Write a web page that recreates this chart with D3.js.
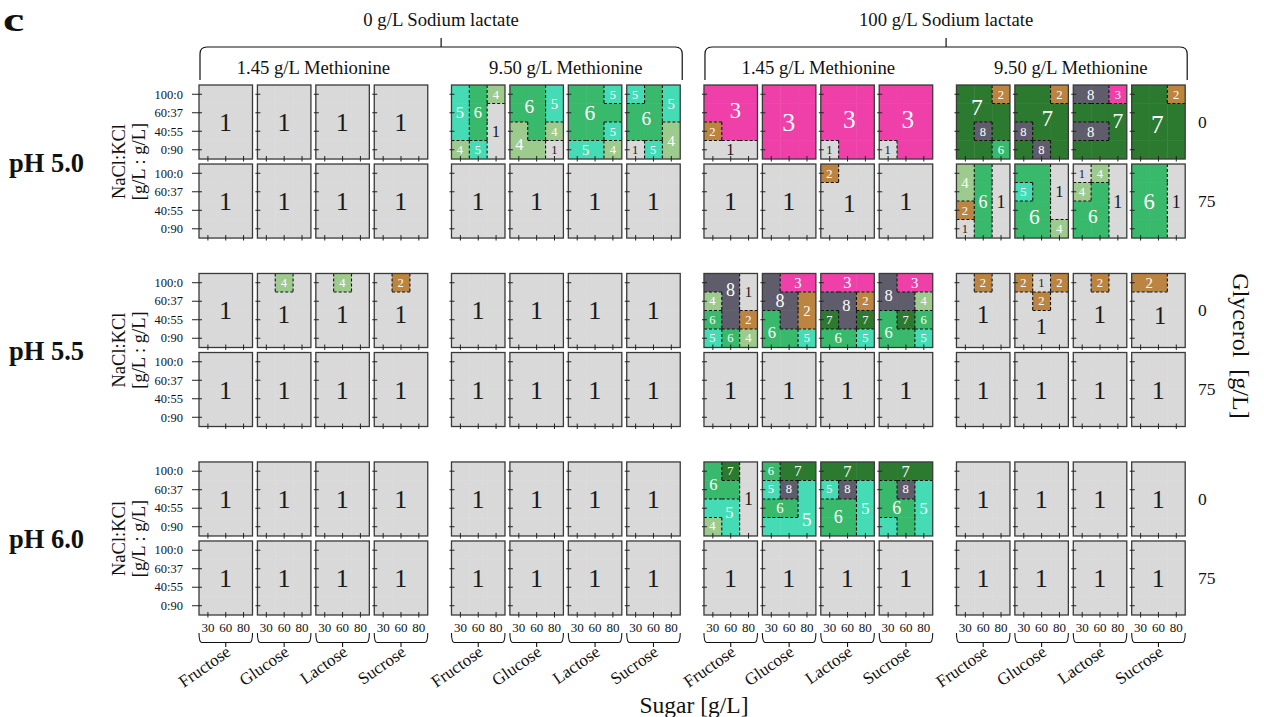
<!DOCTYPE html>
<html>
<head>
<meta charset="utf-8">
<script src="https://cdn.jsdelivr.net/npm/d3@7"></script>
<style>
  body { margin: 0; background: #fff; }
  svg text { font-family: "Liberation Serif", "Times New Roman", serif; }
</style>
</head>
<body>
<svg id="chart" width="1264" height="717"></svg>
<script>
// ---- factor levels ----
const lactateLabels = ["0 g/L Sodium lactate", "100 g/L Sodium lactate"];
const methionineLabels = ["1.45 g/L Methionine", "9.50 g/L Methionine"];
const sugars = ["Fructose", "Glucose", "Lactose", "Sucrose"];
const sugarTicks = ["30", "60", "80"];
const saltTicks = ["100:0", "60:37", "40:55", "0:90"];
const phLabels = ["pH 5.0", "pH 5.5", "pH 6.0"];
const glycerolTicks = ["0", "75"];

// cluster id -> fill colour
const clusterIds = [1, 2, 3, 4, 5, 6, 7, 8];
const clusterFills = ["#d9d9d9", "#bb8440", "#ee40a8", "#9dcb8e", "#45dcb5", "#39b96c", "#2c7a30", "#5f5c6b"];

// Cluster per panel. Each string: rows top->bottom (NaCl:KCl 100:0 ... 0:90),
// digits left->right (sugar 30, 60, 80 g/L).
// Panel order: [0 lactate/1.45 Met, 0 lactate/9.50 Met, 100 lactate/1.45 Met, 100 lactate/9.50 Met] x sugars.
const pH50_gly0 = [
  "111/111/111/111", "111/111/111/111", "111/111/111/111", "111/111/111/111",
  "564/561/561/451", "665/665/464/441", "665/666/665/554", "565/665/664/154",
  "333/333/233/111", "333/333/333/333", "333/333/333/133", "333/333/333/133",
  "772/777/787/776", "772/777/877/787", "883/777/887/777", "772/777/777/777"
];
const pH50_gly75 = [
  "111/111/111/111", "111/111/111/111", "111/111/111/111", "111/111/111/111",
  "111/111/111/111", "111/111/111/111", "111/111/111/111", "111/111/111/111",
  "111/111/111/111", "111/111/111/111", "211/111/111/111", "111/111/111/111",
  "461/461/261/161", "661/561/661/664", "141/461/661/661", "661/661/661/661"
];
const pH55_gly0 = [
  "111/111/111/111", "141/111/111/111", "141/111/111/111", "121/111/111/111",
  "111/111/111/111", "111/111/111/111", "111/111/111/111", "111/111/111/111",
  "881/481/682/564", "833/882/682/665", "333/882/787/665", "833/884/676/665",
  "121/111/111/111", "212/121/111/111", "121/111/111/111", "221/111/111/111"
];
const pH55_gly75 = [
  "111/111/111/111", "111/111/111/111", "111/111/111/111", "111/111/111/111",
  "111/111/111/111", "111/111/111/111", "111/111/111/111", "111/111/111/111",
  "111/111/111/111", "111/111/111/111", "111/111/111/111", "111/111/111/111",
  "111/111/111/111", "111/111/111/111", "111/111/111/111", "111/111/111/111"
];
const pH60_gly0 = [
  "111/111/111/111", "111/111/111/111", "111/111/111/111", "111/111/111/111",
  "111/111/111/111", "111/111/111/111", "111/111/111/111", "111/111/111/111",
  "671/661/551/451", "677/585/665/555", "777/585/665/665", "777/685/665/565",
  "111/111/111/111", "111/111/111/111", "111/111/111/111", "111/111/111/111"
];
const pH60_gly75 = [
  "111/111/111/111", "111/111/111/111", "111/111/111/111", "111/111/111/111",
  "111/111/111/111", "111/111/111/111", "111/111/111/111", "111/111/111/111",
  "111/111/111/111", "111/111/111/111", "111/111/111/111", "111/111/111/111",
  "111/111/111/111", "111/111/111/111", "111/111/111/111", "111/111/111/111"
];
const clusterTable = [[pH50_gly0, pH50_gly75], [pH55_gly0, pH55_gly75], [pH60_gly0, pH60_gly75]];

// regions left without a number (ph index, glycerol index, panel index, row, col)
const unlabeledCells = [[0, 0, 13, 3, 0], [2, 0, 11, 3, 0]];

// ---- scales ----
const color = d3.scaleOrdinal().domain(clusterIds).range(clusterFills);
const groupBand = d3.scaleBand().domain(d3.range(4)).range([199, 1185.2]).paddingInner(0.094);
const sugarBand = d3.scaleBand().domain(sugars).range([0, groupBand.bandwidth()]).paddingInner(0.084);
const phBand = d3.scaleBand().domain(phLabels).range([85, 615]).paddingInner(0.188);
const glyBand = d3.scaleBand().domain(glycerolTicks).range([0, phBand.bandwidth()]).paddingInner(0.0633);
const colBand = d3.scaleBand().domain(sugarTicks).range([0, sugarBand.bandwidth()]);
const rowBand = d3.scaleBand().domain(saltTicks).range([0, glyBand.bandwidth()]);

const PW = sugarBand.bandwidth(), PH = glyBand.bandwidth();
const CW = colBand.bandwidth(), CH = rowBand.bandwidth();

const svg = d3.select("#chart");

function parseGrid(s) { return s.split("/").map(r => r.split("").map(Number)); }

// connected regions of equal cluster (4-neighbour)
function regions(grid) {
  const seen = grid.map(r => r.map(() => false));
  const out = [];
  for (let r = 0; r < grid.length; r++) for (let c = 0; c < grid[0].length; c++) {
    if (seen[r][c]) continue;
    const id = grid[r][c], cells = [], stack = [[r, c]];
    seen[r][c] = true;
    while (stack.length) {
      const [rr, cc] = stack.pop(); cells.push([rr, cc]);
      [[1,0],[-1,0],[0,1],[0,-1]].forEach(([dr, dc]) => {
        const nr = rr + dr, nc = cc + dc;
        if (nr >= 0 && nr < grid.length && nc >= 0 && nc < grid[0].length && !seen[nr][nc] && grid[nr][nc] === id) {
          seen[nr][nc] = true; stack.push([nr, nc]);
        }
      });
    }
    out.push({ id, cells });
  }
  return out;
}

// label anchor: a roomy point inside the region, kept close to its centre of mass
function labelPoint(reg) {
  const inside = new Set(reg.cells.map(([r, c]) => r * 3 + c));
  const obstacles = [];
  for (let r = 0; r < 4; r++) for (let c = 0; c < 3; c++) {
    if (!inside.has(r * 3 + c)) obstacles.push([c * CW, (c + 1) * CW, r * CH, (r + 1) * CH]);
  }
  const pts = []; let dmax = 0;
  for (let y = 0.5; y < PH; y += 1) for (let x = 0.5; x < PW; x += 1) {
    const c = Math.min(2, Math.floor(x / CW)), r = Math.min(3, Math.floor(y / CH));
    if (!inside.has(r * 3 + c)) continue;
    let d = Math.min(x, PW - x, y, PH - y);
    for (const [x0, x1, y0, y1] of obstacles) {
      const dx = Math.max(x0 - x, 0, x - x1), dy = Math.max(y0 - y, 0, y - y1);
      d = Math.min(d, Math.hypot(dx, dy));
    }
    pts.push({ x, y, d }); if (d > dmax) dmax = d;
  }
  const cx = d3.mean(reg.cells, cell => (cell[1] + 0.5) * CW);
  const cy = d3.mean(reg.cells, cell => (cell[0] + 0.5) * CH);
  const cand = pts.filter(p => p.d >= 0.85 * dmax);
  return d3.least(cand, p => Math.hypot(p.x - cx, 1.5 * (p.y - cy)));
}

// ---- panels ----
phLabels.forEach((ph, p) => {
  glycerolTicks.forEach((gly, k) => {
    const panels = clusterTable[p][k];
    d3.range(4).forEach(g => {
      sugars.forEach((sugar, s) => {
        const idx = g * 4 + s;
        const grid = parseGrid(panels[idx]);
        const px = groupBand(g) + sugarBand(sugar);
        const py = phBand(ph) + glyBand(gly);
        const G = svg.append("g").attr("transform", `translate(${px},${py})`);

        // cells
        grid.forEach((row, r) => row.forEach((v, c) => {
          G.append("rect")
            .attr("x", colBand(sugarTicks[c])).attr("y", rowBand(saltTicks[r]))
            .attr("width", CW + (c < 2 ? 0.4 : 0)).attr("height", CH + (r < 3 ? 0.4 : 0))
            .attr("fill", color(v));
        }));

        // dashed borders between different clusters
        grid.forEach((row, r) => row.forEach((v, c) => {
          if (c < 2 && row[c + 1] !== v) {
            const x = colBand(sugarTicks[c + 1]);
            G.append("line").attr("x1", x).attr("x2", x)
              .attr("y1", rowBand(saltTicks[r])).attr("y2", rowBand(saltTicks[r]) + CH)
              .attr("stroke", "#111").attr("stroke-width", 1.1).attr("stroke-dasharray", "3,2");
          }
          if (r < 3 && grid[r + 1][c] !== v) {
            const y = rowBand(saltTicks[r + 1]);
            G.append("line").attr("y1", y).attr("y2", y)
              .attr("x1", colBand(sugarTicks[c])).attr("x2", colBand(sugarTicks[c]) + CW)
              .attr("stroke", "#111").attr("stroke-width", 1.1).attr("stroke-dasharray", "3,2");
          }
        }));

        // panel frame
        G.append("rect").attr("width", PW).attr("height", PH)
          .attr("fill", "none").attr("stroke", "#3a3a3a").attr("stroke-width", 1.3);

        // ticks
        const first = (g === 0 && s === 0);
        saltTicks.forEach(t => {
          const y = rowBand(t) + CH / 2;
          G.append("line").attr("x1", first ? -7 : -2).attr("x2", 3).attr("y1", y).attr("y2", y)
            .attr("stroke", "#222").attr("stroke-width", 1);
          if (first) {
            G.append("text").attr("x", -16).attr("y", y).attr("dy", "0.34em")
              .attr("text-anchor", "end").attr("font-size", 12.5).attr("fill", "#111").text(t);
          }
        });
        sugarTicks.forEach(t => {
          const x = colBand(t) + CW / 2;
          G.append("line").attr("x1", x).attr("x2", x).attr("y1", PH - 3).attr("y2", PH + 2.5)
            .attr("stroke", "#222").attr("stroke-width", 1);
        });

        // region numbers
        regions(grid).forEach(reg => {
          const skip = unlabeledCells.some(([up, uk, ui, ur, uc]) =>
            up === p && uk === k && ui === idx && reg.cells.some(([r, c]) => r === ur && c === uc));
          if (skip) return;
          const pt = labelPoint(reg);
          G.append("text").attr("x", pt.x).attr("y", pt.y)
            .attr("text-anchor", "middle").attr("dominant-baseline", "central")
            .attr("font-size", 7 + 5.5 * Math.sqrt(reg.cells.length))
            .attr("fill", reg.id === 1 ? "#1a1a1a" : "#ffffff")
            .text(reg.id);
        });

        // bottom row: sugar ticks, bracket and sugar name
        if (p === phLabels.length - 1 && k === glycerolTicks.length - 1) {
          sugarTicks.forEach(t => {
            G.append("text").attr("x", colBand(t) + CW / 2).attr("y", PH + 17)
              .attr("text-anchor", "middle").attr("font-size", 13).attr("fill", "#111").text(t);
          });
          const by0 = PH + 18, by1 = PH + 27.5;
          G.append("path")
            .attr("d", `M0,${by0} Q0,${by1} 3,${by1} L${PW - 3},${by1} Q${PW},${by1} ${PW},${by0}`)
            .attr("fill", "none").attr("stroke", "#111").attr("stroke-width", 1.1);
          G.append("line").attr("x1", PW / 2).attr("x2", PW / 2).attr("y1", by1).attr("y2", by1 + 4.5)
            .attr("stroke", "#111").attr("stroke-width", 1.1);
          G.append("text").attr("transform", `translate(${PW / 2 + 6},${PH + 39.5}) rotate(-35)`)
            .attr("text-anchor", "end").attr("font-size", 17).attr("fill", "#111").text(sugar);
        }
      });
    });
  });
});

// ---- top headers ----
lactateLabels.forEach((lab, i) => {
  const g0 = i * 2, g1 = i * 2 + 1;
  const x0 = groupBand(g0) + 1, x1 = groupBand(g1) + groupBand.bandwidth() + 2;
  const mid = (x0 + x1) / 2;
  svg.append("path")
    .attr("d", `M${x0},80 L${x0},54 Q${x0},47 ${x0 + 7},47 L${x1 - 7},47 Q${x1},47 ${x1},54 L${x1},80`)
    .attr("fill", "none").attr("stroke", "#111").attr("stroke-width", 1.2);
  svg.append("line").attr("x1", mid).attr("x2", mid).attr("y1", 47).attr("y2", 38)
    .attr("stroke", "#111").attr("stroke-width", 1.2);
  svg.append("text").attr("x", mid).attr("y", 26).attr("text-anchor", "middle")
    .attr("font-size", 18.7).attr("fill", "#111").text(lab);
});
d3.range(4).forEach(g => {
  svg.append("text").attr("x", groupBand(g) + groupBand.bandwidth() / 2).attr("y", 74)
    .attr("text-anchor", "middle").attr("font-size", 18.7).attr("fill", "#111")
    .text(methionineLabels[g % 2]);
});

// ---- left: pH and salt axis title; right: glycerol levels ----
phLabels.forEach(ph => {
  const cy = phBand(ph) + phBand.bandwidth() / 2;
  svg.append("text").attr("x", 9).attr("y", cy + 10).attr("font-size", 26.5)
    .attr("font-weight", "bold").attr("fill", "#111").text(ph);
  svg.append("text").attr("transform", `translate(125,${cy}) rotate(-90)`)
    .attr("text-anchor", "middle").attr("font-size", 18.5).attr("fill", "#111").text("NaCl:KCl");
  svg.append("text").attr("transform", `translate(145,${cy}) rotate(-90)`)
    .attr("text-anchor", "middle").attr("font-size", 18.5).attr("fill", "#111").text("[g/L : g/L]");
  glycerolTicks.forEach(gly => {
    svg.append("text").attr("x", 1198).attr("y", phBand(ph) + glyBand(gly) + PH / 2)
      .attr("dy", "0.34em").attr("font-size", 17.5).attr("fill", "#111").text(gly);
  });
});

svg.append("text").attr("transform", "translate(1233,346) rotate(90)")
  .attr("text-anchor", "middle").attr("font-size", 24).attr("fill", "#111")
  .attr("xml:space", "preserve").style("white-space", "pre").text("Glycerol  [g/L]");

svg.append("text").attr("x", 694).attr("y", 713).attr("text-anchor", "middle")
  .attr("font-size", 23.5).attr("fill", "#111").text("Sugar [g/L]");

svg.append("text").attr("transform", "translate(3,31) scale(1.45,1.05)").attr("font-size", 33)
  .attr("font-weight", "bold").attr("fill", "#111").text("c");
</script>
</body>
</html>
